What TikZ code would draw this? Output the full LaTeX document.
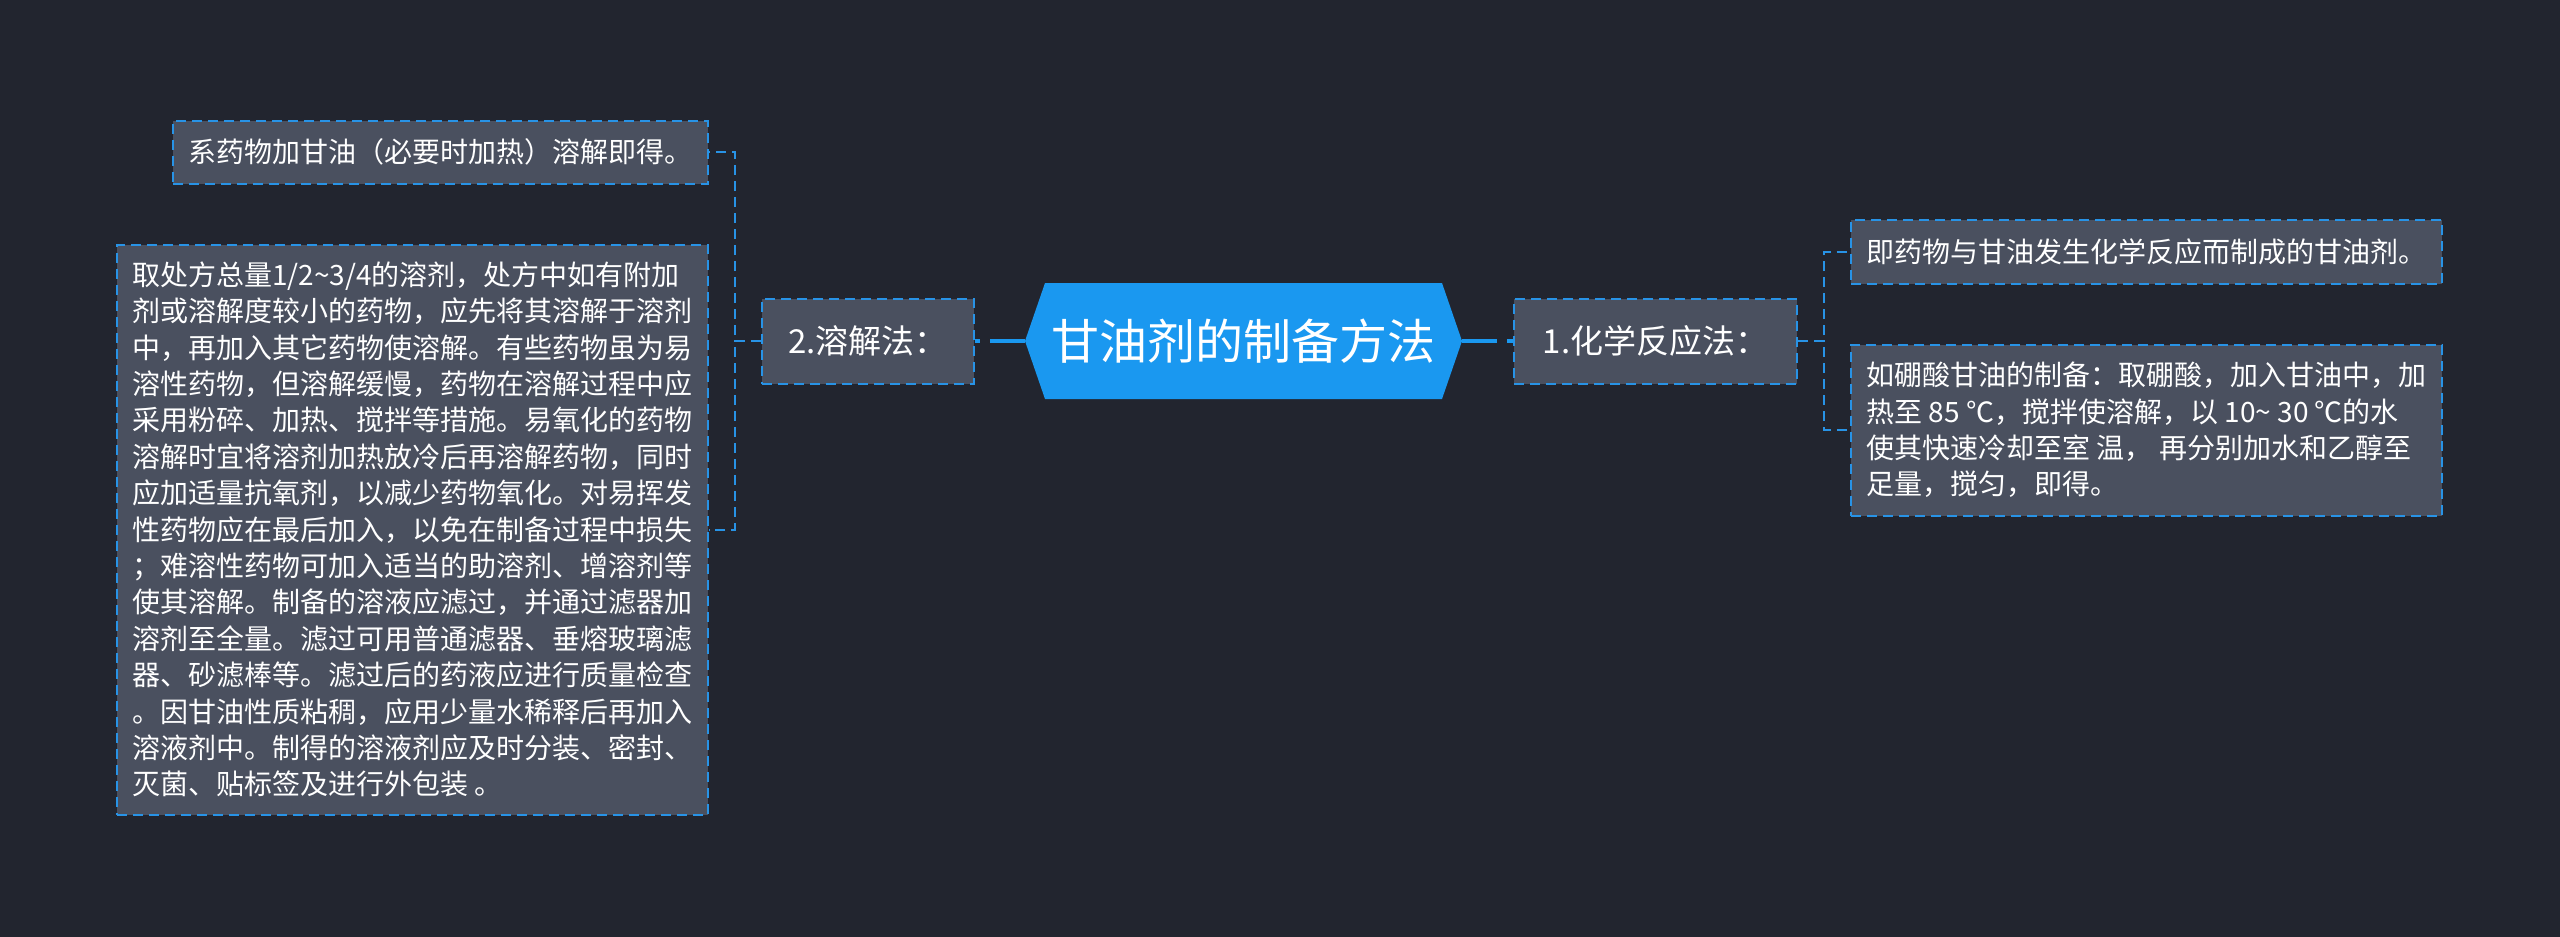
\documentclass[tikz,border=0pt]{standalone}
\usepackage{fontspec}
\setmainfont{Noto Sans CJK SC}
\usetikzlibrary{positioning}

\definecolor{bgc}{HTML}{22252F}
\definecolor{boxc}{HTML}{4A505F}
\definecolor{hubc}{HTML}{1A98F0}
\definecolor{edgec}{HTML}{2893E6}

\tikzset{
    hub/.style={rectangle, fill=bgc, text=white, inner sep=0pt,
        minimum width=437pt, minimum height=116pt, font=\fontsize{48}{58}\selectfont,
        path picture={
            \fill[hubc] (path picture bounding box.west)
                -- ([xshift=20pt]path picture bounding box.north west)
                -- ([xshift=-20pt]path picture bounding box.north east)
                -- (path picture bounding box.east)
                -- ([xshift=-20pt]path picture bounding box.south east)
                -- ([xshift=20pt]path picture bounding box.south west) -- cycle;
        }},
    branch/.style={draw=edgec, fill=boxc, text=white, line width=2pt,
        dash pattern=on 10pt off 6pt, inner sep=0pt, minimum height=85pt,
        font=\fontsize{33}{40}\selectfont},
    leaf/.style={draw=edgec, fill=boxc, text=white, line width=2pt,
        dash pattern=on 10pt off 6pt, inner xsep=15.5pt, inner ysep=0pt,
        font=\fontsize{28}{36.4}\selectfont},
    link/.style={draw=edgec, line width=2pt, dash pattern=on 10pt off 6pt},
    hubline/.style={draw=hubc, line width=4pt, dash pattern=on 35pt off 10pt on 6pt off 2pt}
}

\begin{document}
\begin{tikzpicture}[x=1pt, y=-1pt, align=center]
    \fill[bgc] (0,0) rectangle (2560,937);

    \node[hub] (gm) at (1243.5,341) {甘油剂的制备方法};

    \node[branch, minimum width=212pt] (rj) [left = 50pt of gm] {2.溶解法：};
    \node[branch, minimum width=283pt] (hx) [right = 51pt of gm] {1.化学反应法：};

    % 溶解法
    \node[leaf, minimum width=535pt, minimum height=63pt] (rj1) [left = 52pt of rj, yshift=189pt]
        {系药物加甘油（必要时加热）溶解即得。};
    \node[leaf, text width=560pt, align=flush left, minimum height=570pt] (rj2) [left = 52pt of rj, yshift=-188.5pt]
        {取处方总量1/2\textasciitilde3/4的溶剂，处方中如有附加\\
        剂或溶解度较小的药物，应先将其溶解于溶剂\\
        中，再加入其它药物使溶解。有些药物虽为易\\
        溶性药物，但溶解缓慢，药物在溶解过程中应\\
        采用粉碎、加热、搅拌等措施。易氧化的药物\\
        溶解时宜将溶剂加热放冷后再溶解药物，同时\\
        应加适量抗氧剂，以减少药物氧化。对易挥发\\
        性药物应在最后加入，以免在制备过程中损失\\
        ；难溶性药物可加入适当的助溶剂、增溶剂等\\
        使其溶解。制备的溶液应滤过，并通过滤器加\\
        溶剂至全量。滤过可用普通滤器、垂熔玻璃滤\\
        器、砂滤棒等。滤过后的药液应进行质量检查\\
        。因甘油性质粘稠，应用少量水稀释后再加入\\
        溶液剂中。制得的溶液剂应及时分装、密封、\\
        灭菌、贴标签及进行外包装 。};

    % 化学反应法
    \node[leaf, text width=560pt, align=flush left, minimum height=64pt] (hx1) [right = 52pt of hx, yshift=89.5pt]
        {即药物与甘油发生化学反应而制成的甘油剂。};
    \node[leaf, text width=560pt, align=flush left, minimum height=171pt] (hx2) [right = 52pt of hx, yshift=-89pt]
        {如硼酸甘油的制备：取硼酸，加入甘油中，加\\
        热至 85 ℃，搅拌使溶解，以 10\textasciitilde{} 30 ℃的水\\
        使其快速冷却至室 温， 再分别加水和乙醇至\\
        足量，搅匀，即得。};

    \draw[hubline] (gm.west) -- (rj.east);
    \draw[hubline] (gm.east) -- (hx.west);

    \draw[link] (rj.west) -- ++(-26pt,0) |- (rj1.east);
    \draw[link] (rj.west) -- ++(-26pt,0) |- (rj2.east);
    \draw[link] (hx.east) -- ++(26pt,0) |- (hx1.west);
    \draw[link] (hx.east) -- ++(26pt,0) |- (hx2.west);
\end{tikzpicture}
\end{document}
